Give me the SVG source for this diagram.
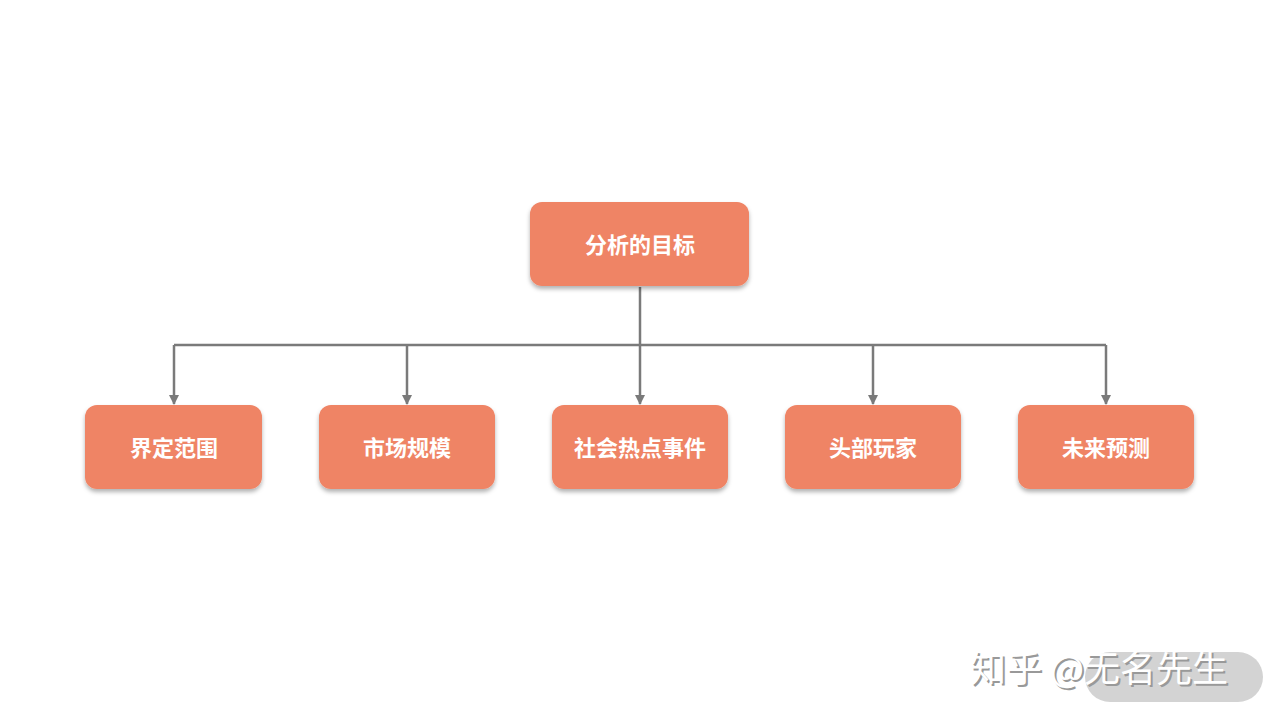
<svg xmlns="http://www.w3.org/2000/svg" width="1280" height="720" viewBox="0 0 1280 720">
<defs>
<style>
.n{fill:#ef8465;filter:url(#sh)}
.t{font-family:"Noto Sans CJK SC",sans-serif;font-weight:bold;font-size:22px;fill:#fff;text-anchor:middle;dominant-baseline:central}
.c{stroke:#7a7a7a;stroke-width:2.5;fill:none}
</style>
<filter id="sh" x="-10%" y="-10%" width="120%" height="130%"><feDropShadow dx="0" dy="3" stdDeviation="2" flood-color="#000" flood-opacity="0.3"/></filter>
<marker id="a" viewBox="0 0 10 10" refX="9" refY="5" markerWidth="4" markerHeight="4" orient="auto"><path d="M0,0L10,5L0,10z" fill="#7a7a7a"/></marker>
</defs>
<rect width="1280" height="720" fill="#fff"/>
<g id="connectors">
<path class="c" d="M640,287V345" stroke-width="3.5"/>
<path class="c" d="M174,345H1106"/>
<path class="c" marker-end="url(#a)" d="M174,345V404"/>
<path class="c" marker-end="url(#a)" d="M407,345V404"/>
<path class="c" marker-end="url(#a)" d="M640,345V404"/>
<path class="c" marker-end="url(#a)" d="M873,345V404"/>
<path class="c" marker-end="url(#a)" d="M1106,345V404"/>
</g>
<g id="root"><rect class="n" x="530" y="202" width="219" height="84" rx="12"/><text class="t" x="640" y="243">分析的目标</text></g>
<g id="n1"><rect class="n" x="85" y="405" width="177" height="84" rx="12"/><text class="t" x="174" y="446">界定范围</text></g>
<g id="n2"><rect class="n" x="319" y="405" width="176" height="84" rx="12"/><text class="t" x="407" y="446">市场规模</text></g>
<g id="n3"><rect class="n" x="552" y="405" width="176" height="84" rx="12"/><text class="t" x="640" y="446">社会热点事件</text></g>
<g id="n4"><rect class="n" x="785" y="405" width="176" height="84" rx="12"/><text class="t" x="873" y="446">头部玩家</text></g>
<g id="n5"><rect class="n" x="1018" y="405" width="176" height="84" rx="12"/><text class="t" x="1106" y="446">未来预测</text></g>
<g id="watermark">
<rect x="1085" y="652" width="178" height="50" rx="25" fill="#c8c8c8" opacity="0.8"/>
<text x="972" y="684" font-family="Noto Sans CJK SC,sans-serif" font-size="36" fill="#999">知乎 @无名先生</text>
<text x="970" y="682" font-family="Noto Sans CJK SC,sans-serif" font-size="36" fill="#fff">知乎 @无名先生</text>
</g>
</svg>
